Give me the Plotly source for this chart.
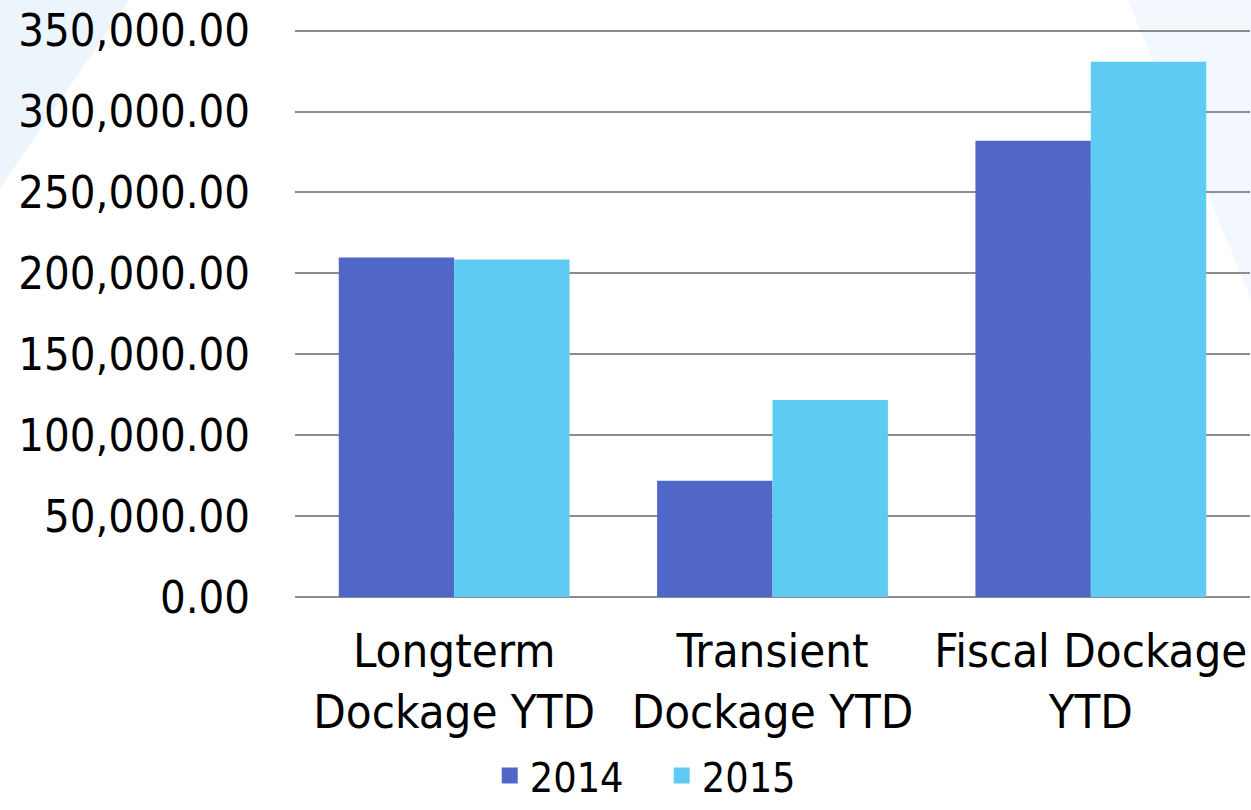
import plotly.graph_objects as go

categories = ["Longterm<br>Dockage YTD", "Transient<br>Dockage YTD", "Fiscal Dockage<br>YTD"]
series_names = ["2014", "2015"]
values_2014 = [209800, 71800, 282000]
values_2015 = [208500, 121800, 330800]
colors = ["#5067C7", "#5ECCF2"]
tick_vals = [0, 50000, 100000, 150000, 200000, 250000, 300000, 350000]

FONT = "DejaVu Sans Condensed"

fig = go.Figure()
for name, vals, col in zip(series_names, [values_2014, values_2015], colors):
    fig.add_trace(go.Bar(x=categories, y=vals, name=name, showlegend=False,
                         marker=dict(color=col, line=dict(width=0))))
# legend entries with larger square swatches
for name, col in zip(series_names, colors):
    fig.add_trace(go.Scatter(x=[None], y=[None], mode="markers", name=name,
                             marker=dict(symbol="square", size=16, color=col), showlegend=True))

# faint background decoration (light blue corners)
fig.add_shape(type="path", xref="paper", yref="paper",
              path="M -0.309 1.06 L -0.17 1.06 L -0.309 0.72 Z",
              fillcolor="rgba(228,239,251,0.7)", line=dict(width=0), layer="below")
fig.add_shape(type="path", xref="paper", yref="paper",
              path="M 0.87 1.06 L 1.002 1.06 L 1.002 0.52 Z",
              fillcolor="rgba(232,242,252,0.55)", line=dict(width=0), layer="below")

fig.update_layout(
    width=1251, height=810,
    margin=dict(l=295, r=1, t=29, b=213, autoexpand=False),
    paper_bgcolor="white", plot_bgcolor="rgba(0,0,0,0)",
    barmode="group", bargap=0.275, bargroupgap=0,
    font=dict(family=FONT, size=44, color="black"),
    showlegend=True,
    legend=dict(orientation="h", x=0.384, xanchor="center", y=-0.374, yanchor="bottom",
                font=dict(size=41), itemsizing="trace", traceorder="normal",
                entrywidth=127, entrywidthmode="pixels",
                bgcolor="rgba(0,0,0,0)"),
    xaxis=dict(showgrid=False, showline=False, ticks="", tickfont=dict(size=47),
               ticklabelstandoff=22, automargin=False),
    yaxis=dict(range=[0, 351000], tickvals=tick_vals, tickformat=",.2f",
               showgrid=True, gridcolor="#8C8C8C", gridwidth=2, zeroline=True,
               zerolinecolor="#8C8C8C", zerolinewidth=2, showline=False,
               ticklabelstandoff=44, tickfont=dict(size=45), automargin=False),
)

fig.write_html("out.html", config={"displayModeBar": False},
               post_script="document.body.style.margin='0';")
